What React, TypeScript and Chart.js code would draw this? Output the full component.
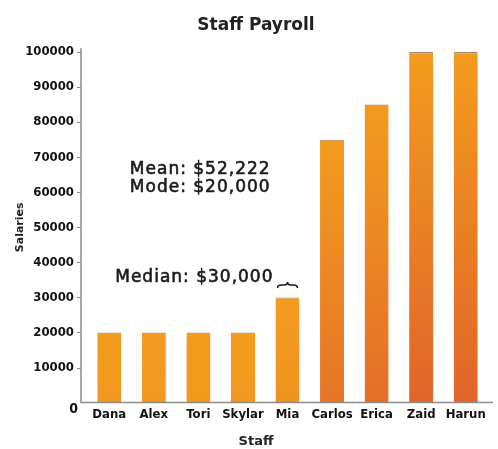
import React, { useEffect, useRef } from 'react';
import { Chart, registerables } from 'chart.js';

Chart.register(...registerables);

const staff = ['Dana', 'Alex', 'Tori', 'Skylar', 'Mia', 'Carlos', 'Erica', 'Zaid', 'Harun'];
const salaries = [20000, 20000, 20000, 20000, 30000, 75000, 85000, 100000, 100000];
const yTicks = [0, 10000, 20000, 30000, 40000, 50000, 60000, 70000, 80000, 90000, 100000];
const meanLabel = 'Mean: $52,222';
const modeLabel = 'Mode: $20,000';
const medianLabel = 'Median: $30,000';
const medianIndex = 4;

const NARROW = "'DejaVu Sans Condensed', sans-serif";
const WIDE = "'DejaVu Sans', sans-serif";

function hex(c: string) {
  return [1, 3, 5].map((i) => parseInt(c.slice(i, i + 2), 16));
}
function mix(a: string, b: string, t: number) {
  const A = hex(a), B = hex(b);
  const m = A.map((v, i) => Math.round(v + (B[i] - v) * t));
  return `rgb(${m[0]},${m[1]},${m[2]})`;
}

const axesPlugin = {
  id: 'customAxes',
  afterDraw(chart: any) {
    const { ctx, chartArea, scales } = chart;
    const x = scales.x, y = scales.y;
    const ax = chartArea.left - 6;
    const y0 = y.getPixelForValue(0);
    ctx.save();
    ctx.strokeStyle = '#8c8c8c';
    ctx.lineWidth = 1.5;
    ctx.beginPath();
    ctx.moveTo(ax, y.getPixelForValue(101100));
    ctx.lineTo(ax, y0);
    ctx.lineTo(chartArea.right + 5, y0);
    ctx.stroke();
    ctx.lineWidth = 1;
    ctx.beginPath();
    yTicks.forEach((v) => {
      if (v === 0) return;
      const py = Math.round(y.getPixelForValue(v)) + 0.5;
      ctx.moveTo(ax - 4, py);
      ctx.lineTo(ax, py);
    });
    ctx.stroke();

    // zero label
    ctx.fillStyle = '#111';
    ctx.font = `bold 14px ${NARROW}`;
    ctx.textAlign = 'right';
    ctx.textBaseline = 'middle';
    ctx.fillText('0', ax - 3, y0 + 7);

    // annotations
    ctx.font = `17px ${WIDE}`;
    (ctx as any).letterSpacing = '1px';
    ctx.fillStyle = '#1a1a1a';
    ctx.strokeStyle = '#1a1a1a';
    ctx.lineWidth = 0.6;
    ctx.textAlign = 'left';
    const ax1 = x.getPixelForValue(1) - 24;
    const put = (t: string, px: number, py: number) => {
      ctx.fillText(t, px, py);
      ctx.strokeText(t, px, py);
    };
    put(meanLabel, ax1, y.getPixelForValue(66600));
    put(modeLabel, ax1, y.getPixelForValue(61200));
    ctx.textAlign = 'right';
    const mx = x.getPixelForValue(medianIndex);
    put(medianLabel, mx - 14, y.getPixelForValue(35800));
    (ctx as any).letterSpacing = '0px';

    // brace over median bar
    const bl = mx - 10, br = mx + 10;
    const by = y.getPixelForValue(32700);
    const bm = by - 6;
    ctx.lineWidth = 1.5;
    ctx.beginPath();
    ctx.moveTo(bl, by);
    ctx.quadraticCurveTo(bl, by - 3, bl + 4, by - 3);
    ctx.lineTo(mx - 3, by - 3);
    ctx.quadraticCurveTo(mx, by - 3, mx, bm);
    ctx.quadraticCurveTo(mx, by - 3, mx + 3, by - 3);
    ctx.lineTo(br - 4, by - 3);
    ctx.quadraticCurveTo(br, by - 3, br, by);
    ctx.stroke();
    ctx.restore();
  },
};

export default function App() {
  const ref = useRef<HTMLCanvasElement | null>(null);
  useEffect(() => {
    if (!ref.current) return;
    const chart = new Chart(ref.current, {
      type: 'bar',
      data: {
        labels: staff,
        datasets: [
          {
            label: 'Salaries',
            data: salaries,
            backgroundColor: (c: any) => {
              const chart = c.chart;
              const v = c.raw;
              if (!chart.chartArea || typeof v !== 'number') return '#f29a1f';
              const ys = chart.scales.y;
              const top = ys.getPixelForValue(v);
              const bot = ys.getPixelForValue(0);
              const g = chart.ctx.createLinearGradient(0, top, 0, bot);
              g.addColorStop(0, '#f39b1e');
              g.addColorStop(1, mix('#f2981f', '#e0652a', Math.max(0, (v - 20000) / 80000)));
              return g;
            },
            borderColor: 'rgba(140,95,45,0.75)',
            borderWidth: { top: 1.2, left: 0, right: 0, bottom: 0 },
            borderSkipped: 'bottom',
            barPercentage: 0.54,
            categoryPercentage: 1,
          },
        ],
      },
      options: {
        animation: false,
        responsive: false,
        maintainAspectRatio: false,
        layout: { padding: { left: 24, right: 10, top: 0, bottom: 0 } },
        plugins: {
          legend: { display: false },
          tooltip: { enabled: false },
          title: {
            display: true,
            text: 'Staff Payroll',
            color: '#222',
            font: { family: WIDE, size: 17, weight: 'bold' },
            padding: { top: 15.8, bottom: 15.8 },
          },
          subtitle: {
            display: true,
            position: 'bottom',
            text: 'Staff',
            color: '#222',
            font: { family: WIDE, size: 13, weight: 'bold' },
            padding: { top: 7.2, bottom: 0 },
          },
        },
        scales: {
          x: {
            grid: { display: false, drawTicks: false, tickLength: 0 },
            border: { display: false },
            ticks: {
              color: '#111',
              font: { family: NARROW, size: 13, weight: 'bold' },
              padding: 4,
              maxRotation: 0,
              autoSkip: false,
            },
          },
          y: {
            min: 0,
            max: 100000,
            afterFit: (s: any) => {
              s.width = 63;
            },
            afterBuildTicks: (s: any) => {
              s.ticks = yTicks.map((v) => ({ value: v }));
            },
            grid: { display: false, drawTicks: false, tickLength: 0 },
            border: { display: false },
            ticks: {
              color: '#111',
              font: { family: NARROW, size: 13, weight: 'bold' },
              padding: 13,
              callback: (v: any) => (v === 0 ? '' : String(v)),
            },
            title: {
              display: true,
              text: 'Salaries',
              color: '#222',
              font: { family: WIDE, size: 11, weight: 'bold' },
              padding: { top: -10.6, bottom: 0 },
            },
          },
        },
      },
      plugins: [axesPlugin],
    } as any);
    return () => chart.destroy();
  }, []);
  return (
    <div style={{ position: 'fixed', left: 0, top: 0, width: 498, height: 449, background: '#fff' }}>
      <canvas ref={ref} width={498} height={449} style={{ width: 498, height: 449, display: 'block' }} />
    </div>
  );
}
